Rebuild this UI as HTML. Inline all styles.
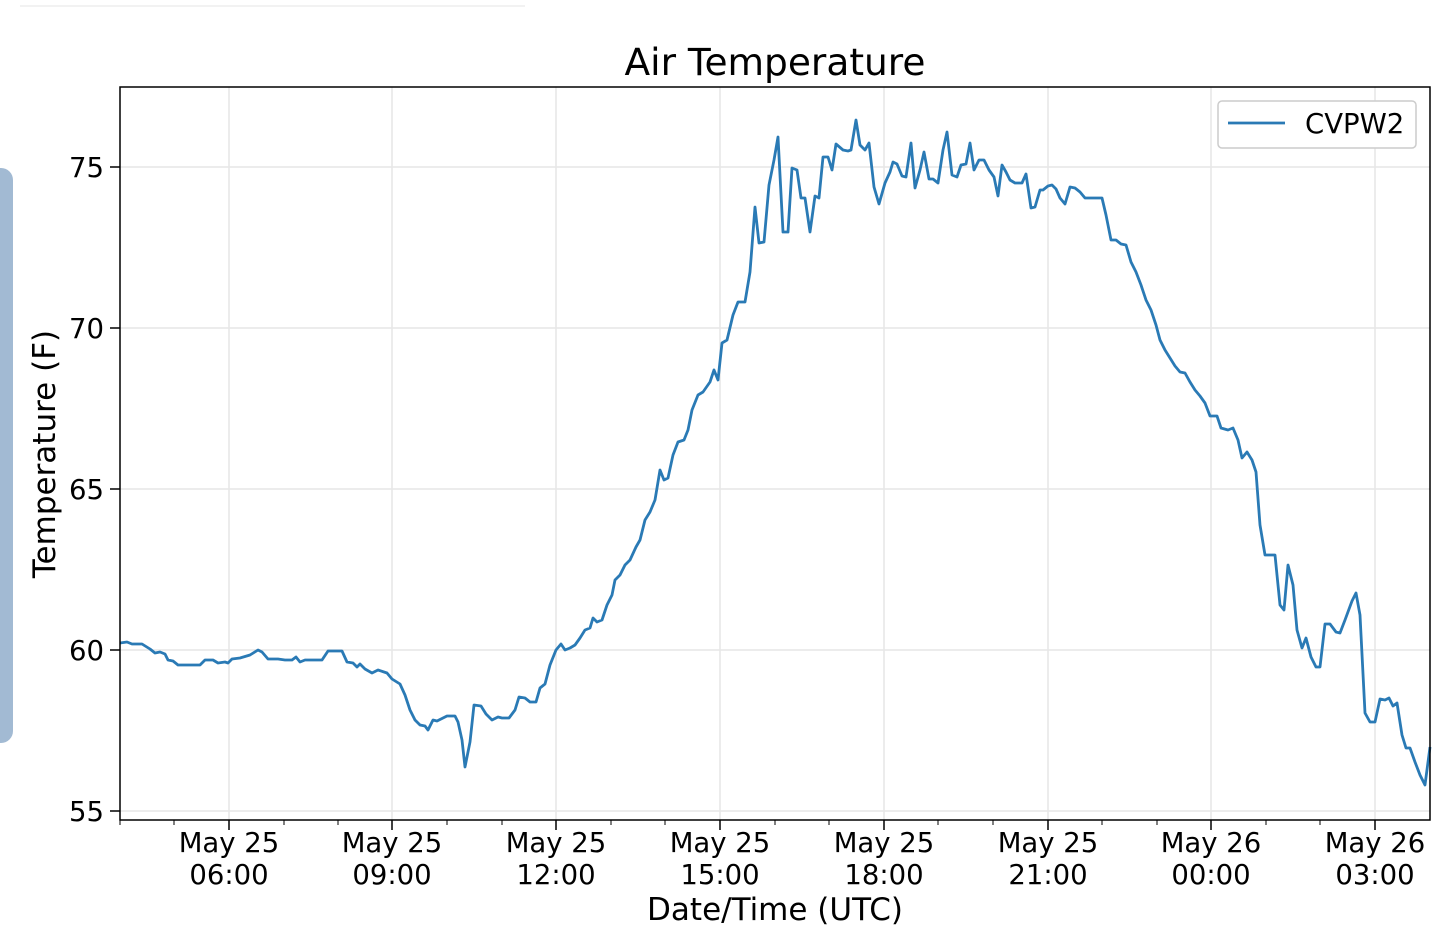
<!DOCTYPE html>
<html><head><meta charset="utf-8"><style>
html,body{margin:0;padding:0;background:#fff;width:1440px;height:950px;overflow:hidden}
svg text{font-family:"DejaVu Sans","Liberation Sans",sans-serif;fill:#000}
</style></head><body>
<svg width="1440" height="950" viewBox="0 0 1440 950" xmlns="http://www.w3.org/2000/svg">
<line x1="20" y1="6" x2="525" y2="6" stroke="#eee" stroke-width="1.5"/>
<rect x="-12" y="168" width="25" height="575" rx="12" fill="#a2bad3"/>
<g stroke="#e6e6e6" stroke-width="1.5">
<line x1="229" y1="87" x2="229" y2="820"/><line x1="392" y1="87" x2="392" y2="820"/>
<line x1="556" y1="87" x2="556" y2="820"/><line x1="720" y1="87" x2="720" y2="820"/>
<line x1="884" y1="87" x2="884" y2="820"/><line x1="1048" y1="87" x2="1048" y2="820"/>
<line x1="1211" y1="87" x2="1211" y2="820"/><line x1="1375" y1="87" x2="1375" y2="820"/>
<line x1="120" y1="167" x2="1430" y2="167"/><line x1="120" y1="328" x2="1430" y2="328"/>
<line x1="120" y1="489" x2="1430" y2="489"/><line x1="120" y1="650" x2="1430" y2="650"/>
<line x1="120" y1="811" x2="1430" y2="811"/>
</g>
<polyline fill="none" stroke="#2a7ab5" stroke-width="2.8" stroke-linejoin="round" points="120,643 127,642 132,644 142,644 150,649 155,653 160,652 165,654 168,660 173,661 178,665 200,665 205,660 213,660 218,663 225,662 228,663 232,659 240,658 250,655 258,650 262,652 268,659 278,659 285,660 292,660 296,657 300,662 305,660 322,660 328,651 342,651 347,662 353,663 357,667 360,664 365,669 372,673 378,670 387,673 392,679 400,684 405,695 410,710 415,720 420,725 425,726 428,730 433,720 437,721 443,718 447,716 455,716 458,722 462,740 465,767 470,742 474,705 481,706 486,714 492,720 498,717 502,718 509,718 515,710 519,697 525,698 530,702 536,702 540,688 545,684 550,665 556,650 561,644 565,650 570,648 575,645 580,638 585,630 590,628 593,618 597,622 602,620 607,605 612,595 615,580 620,575 625,565 630,560 636,547 640,540 645,520 650,512 655,500 660,470 664,480 668,478 673,455 678,442 684,440 688,430 692,410 698,395 703,392 710,382 714,370 718,380 722,343 727,340 733,315 738,302 745,302 750,272 755,207 759,243 764,242 769,185 774,160 778,137 783,232 788,232 792,168 797,170 801,198 805,198 810,232 815,196 819,198 823,157 828,157 832,170 836,144 843,150 848,151 851,150 856,120 860,145 865,150 869,143 874,187 879,204 885,183 890,172 893,162 897,164 902,176 906,177 911,143 915,188 920,170 924,152 929,179 933,179 938,183 943,150 947,132 952,175 957,177 961,165 966,164 970,143 974,170 979,160 984,160 989,170 994,177 998,196 1002,165 1006,172 1010,180 1015,183 1022,183 1026,174 1031,208 1035,207 1040,190 1043,190 1048,186 1052,185 1056,189 1060,198 1065,204 1070,187 1075,188 1080,192 1085,198 1102,198 1106,215 1111,240 1116,240 1121,244 1126,245 1131,262 1136,272 1141,285 1146,300 1151,310 1156,325 1160,340 1165,350 1170,358 1175,366 1180,372 1185,373 1190,382 1195,390 1200,396 1205,403 1210,416 1217,416 1221,428 1228,430 1233,428 1238,440 1242,458 1247,452 1252,460 1256,472 1260,525 1265,555 1275,555 1280,605 1284,610 1288,565 1293,585 1297,630 1302,648 1306,638 1311,657 1316,667 1320,667 1325,624 1330,624 1336,632 1340,633 1345,620 1352,601 1356,593 1360,615 1365,713 1370,722 1375,722 1380,699 1385,700 1389,698 1393,706 1397,703 1402,735 1406,748 1410,748 1415,762 1420,775 1425,785 1430,747"/>
<rect x="120" y="87" width="1310" height="733" fill="none" stroke="#000" stroke-width="1.5"/>
<g stroke="#000" stroke-width="1.5">
<line x1="229" y1="820" x2="229" y2="830"/><line x1="392" y1="820" x2="392" y2="830"/>
<line x1="556" y1="820" x2="556" y2="830"/><line x1="720" y1="820" x2="720" y2="830"/>
<line x1="884" y1="820" x2="884" y2="830"/><line x1="1048" y1="820" x2="1048" y2="830"/>
<line x1="1211" y1="820" x2="1211" y2="830"/><line x1="1375" y1="820" x2="1375" y2="830"/>
<line x1="110" y1="167" x2="120" y2="167"/><line x1="110" y1="328" x2="120" y2="328"/>
<line x1="110" y1="489" x2="120" y2="489"/><line x1="110" y1="650" x2="120" y2="650"/>
<line x1="110" y1="811" x2="120" y2="811"/>
</g>
<g stroke="#000" stroke-width="1">
<line x1="120" y1="820" x2="120" y2="825"/><line x1="174" y1="820" x2="174" y2="825"/><line x1="284" y1="820" x2="284" y2="825"/><line x1="338" y1="820" x2="338" y2="825"/><line x1="447" y1="820" x2="447" y2="825"/><line x1="502" y1="820" x2="502" y2="825"/><line x1="611" y1="820" x2="611" y2="825"/><line x1="665" y1="820" x2="665" y2="825"/><line x1="775" y1="820" x2="775" y2="825"/><line x1="829" y1="820" x2="829" y2="825"/><line x1="938" y1="820" x2="938" y2="825"/><line x1="993" y1="820" x2="993" y2="825"/><line x1="1102" y1="820" x2="1102" y2="825"/><line x1="1157" y1="820" x2="1157" y2="825"/><line x1="1266" y1="820" x2="1266" y2="825"/><line x1="1320" y1="820" x2="1320" y2="825"/>
</g>
<g font-size="27.5" text-anchor="end">
<text x="104" y="177">75</text><text x="104" y="338">70</text><text x="104" y="499">65</text><text x="104" y="660">60</text><text x="104" y="821">55</text>
</g>
<g font-size="27.5" text-anchor="middle">
<text x="229" y="852">May 25</text><text x="229" y="884">06:00</text>
<text x="392" y="852">May 25</text><text x="392" y="884">09:00</text>
<text x="556" y="852">May 25</text><text x="556" y="884">12:00</text>
<text x="720" y="852">May 25</text><text x="720" y="884">15:00</text>
<text x="884" y="852">May 25</text><text x="884" y="884">18:00</text>
<text x="1048" y="852">May 25</text><text x="1048" y="884">21:00</text>
<text x="1211" y="852">May 26</text><text x="1211" y="884">00:00</text>
<text x="1375" y="852">May 26</text><text x="1375" y="884">03:00</text>
<text x="775" y="75" font-size="37.5">Air Temperature</text>
<text x="775" y="920" font-size="31">Date/Time (UTC)</text>
<text transform="translate(55,454) rotate(-90)" font-size="31">Temperature (F)</text>
</g>
<rect x="1218" y="101" width="198" height="47" rx="4" fill="#fff" stroke="#ccc" stroke-width="1.5"/>
<line x1="1228" y1="123" x2="1285" y2="123" stroke="#2a7ab5" stroke-width="2.8"/>
<text x="1305" y="133" font-size="27.5">CVPW2</text>
</svg>
</body></html>
